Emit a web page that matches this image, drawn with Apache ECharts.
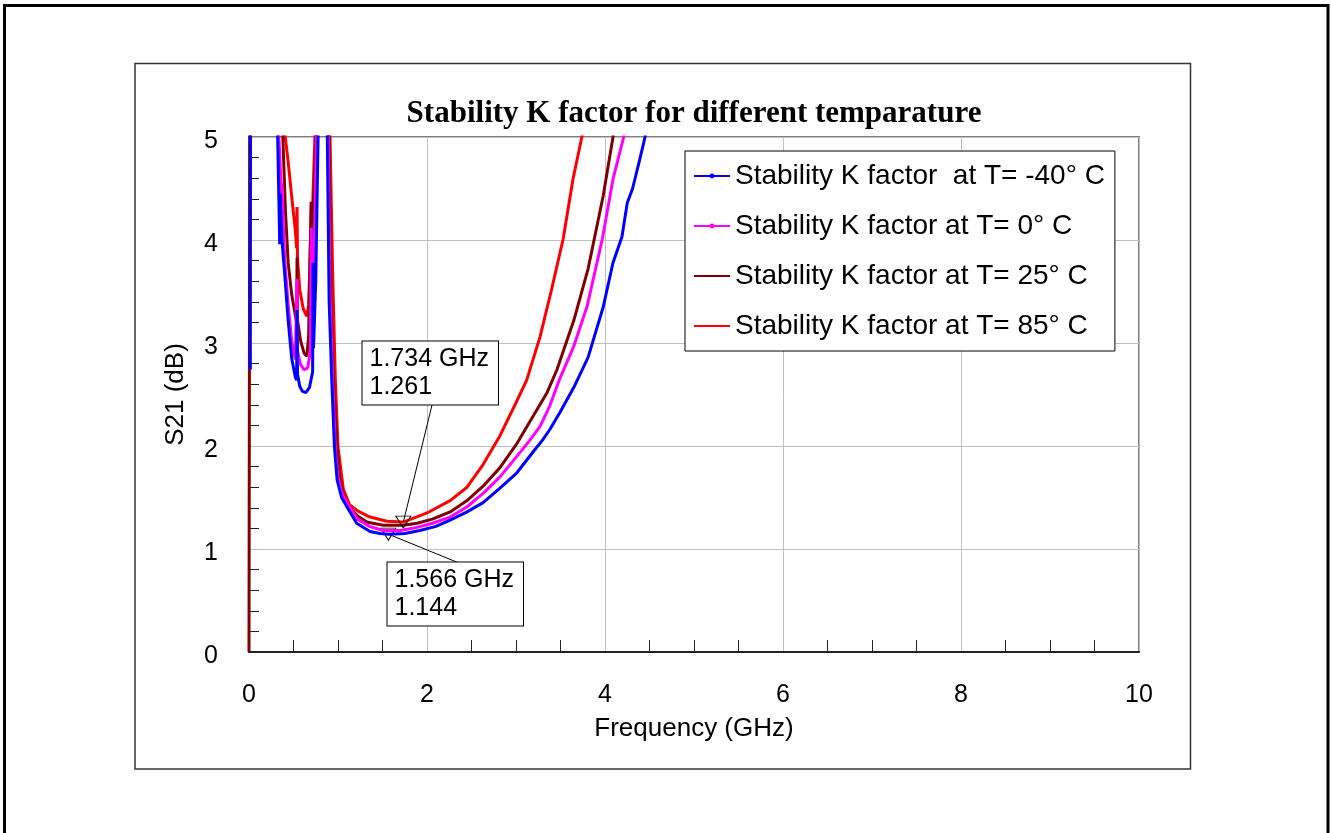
<!DOCTYPE html>
<html lang="en">
<head>
    <meta charset="UTF-8">
    <title>Stability K factor</title>
    <style>
        * {
            margin: 0;
            padding: 0;
        }

        html, body {
            height: 100%;
            width: 100%;
            background: #fff;
        }
    </style>
    <script src="https://cdn.jsdelivr.net/npm/echarts@6/dist/echarts.min.js"></script>
</head>
<body>

<div id="main" style="width: 1331px;height: 833px;"></div>

<script>
    // [frequency GHz, K]
    var kMinus40 = [[0.015, 2.74], [0.02, 9], [0.15, 12], [0.30, 7], [0.32, 5.1], [0.335, 4.42], [0.345, 3.96], [0.35, 4.45], [0.37, 4.0], [0.40, 3.68], [0.44, 3.22], [0.48, 2.85], [0.52, 2.67], [0.535, 2.64], [0.54, 3.32], [0.545, 2.70], [0.57, 2.58], [0.60, 2.53], [0.64, 2.52], [0.68, 2.57], [0.715, 2.72], [0.72, 3.78], [0.725, 2.95], [0.75, 3.6], [0.78, 5.2], [0.81, 8], [0.85, 7], [0.88, 5.0], [0.90, 3.42], [0.93, 2.64], [0.96, 1.99], [0.99, 1.67], [1.04, 1.50], [1.10, 1.41], [1.21, 1.25], [1.36, 1.17], [1.47, 1.15], [1.566, 1.144], [1.75, 1.15], [1.92, 1.18], [2.10, 1.22], [2.26, 1.28], [2.45, 1.36], [2.63, 1.45], [2.82, 1.59], [3.01, 1.74], [3.18, 1.93], [3.30, 2.06], [3.38, 2.16], [3.49, 2.32], [3.65, 2.57], [3.81, 2.86], [3.98, 3.35], [4.09, 3.78], [4.19, 4.03], [4.25, 4.36], [4.31, 4.50], [4.39, 4.78], [4.45, 5.0], [4.6, 6.0], [5.0, 9]];
    var k0 = [[0.02, 9], [0.15, 12], [0.30, 7.5], [0.33, 5.1], [0.36, 4.55], [0.365, 4.38], [0.37, 4.55], [0.40, 3.82], [0.44, 3.37], [0.48, 3.02], [0.52, 2.84], [0.535, 2.85], [0.54, 3.62], [0.545, 2.92], [0.58, 2.79], [0.62, 2.74], [0.66, 2.76], [0.69, 2.92], [0.70, 4.12], [0.705, 3.17], [0.73, 3.67], [0.76, 5.1], [0.80, 8], [0.85, 7], [0.89, 5.0], [0.91, 3.47], [0.94, 2.64], [0.97, 1.99], [1.00, 1.69], [1.05, 1.53], [1.12, 1.42], [1.22, 1.29], [1.35, 1.22], [1.51, 1.18], [1.70, 1.18], [1.89, 1.21], [2.06, 1.25], [2.26, 1.31], [2.45, 1.41], [2.63, 1.54], [2.82, 1.70], [3.00, 1.89], [3.15, 2.05], [3.27, 2.19], [3.38, 2.39], [3.49, 2.65], [3.65, 2.97], [3.80, 3.36], [3.97, 4.01], [4.09, 4.59], [4.21, 5.0], [4.4, 6.5], [5.0, 10]];
    var k25 = [[0, 0], [0.015, 9], [0.15, 12], [0.30, 8], [0.38, 5.0], [0.41, 4.27], [0.44, 3.78], [0.48, 3.47], [0.52, 3.27], [0.535, 3.2], [0.54, 3.83], [0.545, 3.22], [0.58, 3.02], [0.62, 2.90], [0.65, 2.87], [0.67, 3.07], [0.685, 3.78], [0.70, 4.37], [0.705, 3.92], [0.73, 4.47], [0.77, 5.5], [0.81, 8], [0.86, 7], [0.90, 5.0], [0.92, 3.37], [0.95, 2.64], [0.99, 1.99], [1.02, 1.67], [1.07, 1.50], [1.12, 1.41], [1.22, 1.32], [1.33, 1.26], [1.51, 1.23], [1.734, 1.23], [1.89, 1.25], [2.06, 1.29], [2.26, 1.36], [2.45, 1.47], [2.63, 1.61], [2.82, 1.79], [3.00, 2.01], [3.20, 2.30], [3.35, 2.52], [3.46, 2.74], [3.65, 3.22], [3.81, 3.72], [3.98, 4.43], [4.09, 5.0], [4.3, 6.5], [5.0, 11]];
    var k85 = [[0.01, 9], [0.15, 12], [0.30, 9], [0.40, 5.05], [0.44, 4.76], [0.48, 4.42], [0.52, 4.10], [0.535, 3.92], [0.54, 4.32], [0.545, 3.82], [0.57, 3.52], [0.61, 3.33], [0.65, 3.26], [0.67, 3.37], [0.685, 3.78], [0.70, 4.37], [0.705, 3.97], [0.72, 4.47], [0.76, 5.5], [0.80, 9], [0.86, 8], [0.91, 5.0], [0.94, 3.67], [0.97, 2.64], [1.00, 1.99], [1.06, 1.58], [1.13, 1.43], [1.22, 1.37], [1.36, 1.31], [1.55, 1.27], [1.734, 1.261], [2.00, 1.35], [2.26, 1.47], [2.45, 1.60], [2.63, 1.82], [2.82, 2.10], [3.00, 2.42], [3.12, 2.64], [3.27, 3.06], [3.40, 3.52], [3.53, 4.01], [3.64, 4.59], [3.74, 5.0], [3.9, 6.2], [4.3, 10]];

    var seriesNames = ['Stability K factor  at T= -40° C', 'Stability K factor at T= 0° C', 'Stability K factor at T= 25° C', 'Stability K factor at T= 85° C'];
    var seriesColors = ['#0000ff', '#ff00ff', '#800000', '#ff0000'];

    // marked points: [freq, K, label]
    var markHot = [1.734, 1.261, '1.734 GHz\n1.261'];
    var markCold = [1.566, 1.144, '1.566 GHz\n1.144'];

    var myChart = echarts.init(document.getElementById('main'));

    var font = 'Liberation Sans';

    function line(i, data, z) {
        return {
            name: seriesNames[i],
            type: 'line',
            data: data,
            z: z,
            symbol: 'circle',
            showSymbol: false,
            animation: false,
            lineStyle: {color: seriesColors[i], width: 3},
            itemStyle: {color: seriesColors[i]}
        };
    }

    var boxLabel = {
        show: true,
        position: [0, 0],
        align: 'left',
        verticalAlign: 'top',
        fontFamily: font,
        fontSize: 25,
        lineHeight: 28,
        color: '#000',
        backgroundColor: '#fff',
        borderColor: '#000',
        borderWidth: 1,
        padding: [4, 9, 3, 7]
    };
    var tri = {
        symbol: 'triangle',
        symbolRotate: 180,
        symbolSize: [15, 12],
        itemStyle: {color: 'rgba(0,0,0,0)', borderColor: '#000', borderWidth: 1},
        label: {show: false}
    };

    var series = [
        line(0, kMinus40, 6),
        line(1, k0, 5),
        line(2, k25, 4),
        line(3, k85, 3)
    ];
    series[0].markPoint = {
        silent: true,
        animation: false,
        data: [
            Object.assign({coord: [markHot[0], markHot[1]]}, tri),
            Object.assign({coord: [markCold[0], markCold[1]]}, tri),
            {x: 363, y: 342, symbol: 'rect', symbolSize: 1, itemStyle: {color: 'rgba(0,0,0,0)'}, label: Object.assign({formatter: markHot[2]}, boxLabel)},
            {x: 388, y: 563, symbol: 'rect', symbolSize: 1, itemStyle: {color: 'rgba(0,0,0,0)'}, label: Object.assign({formatter: markCold[2]}, boxLabel)}
        ]
    };
    series[0].markLine = {
        silent: true,
        animation: false,
        symbol: 'none',
        label: {show: false},
        lineStyle: {color: '#000', width: 1, type: 'solid'},
        data: [
            [{coord: [markHot[0], markHot[1]]}, {x: 432, y: 405}],
            [{coord: [markCold[0], markCold[1]]}, {x: 459, y: 563}]
        ]
    };

    var option = {
        backgroundColor: '#fff',
        animation: false,
        graphic: [
            {type: 'rect', shape: {x: 4.5, y: 5.5, width: 1323.5, height: 900}, style: {fill: 'none', stroke: '#000', lineWidth: 3}, silent: true},
            {type: 'rect', shape: {x: 135, y: 63.5, width: 1055.5, height: 705.5}, style: {fill: 'none', stroke: '#333', lineWidth: 1.5}, silent: true},
            {type: 'text', x: 694, y: 114, style: {text: 'Stability K factor for different temparature', font: 'bold 31px "Liberation Serif"', fill: '#000', textAlign: 'center', textVerticalAlign: 'middle'}, silent: true}
        ],
        legend: {
            data: [
                {name: seriesNames[0]},
                {name: seriesNames[1]},
                {name: seriesNames[2], itemStyle: {opacity: 0}},
                {name: seriesNames[3], itemStyle: {opacity: 0}}
            ],
            orient: 'vertical',
            left: 685,
            top: 151,
            padding: [11, 10, 11, 8],
            itemGap: 22,
            itemWidth: 36,
            itemHeight: 6,
            selectedMode: false,
            backgroundColor: '#fff',
            borderColor: '#000',
            borderWidth: 1,
            textStyle: {fontFamily: font, fontSize: 28, color: '#000'}
        },
        grid: {
            left: 249,
            top: 137,
            right: 192,
            bottom: 181,
            show: true,
            borderColor: '#808080',
            borderWidth: 2,
            containLabel: false
        },
        xAxis: {
            type: 'value',
            min: 0,
            max: 10,
            interval: 2,
            name: 'Frequency (GHz)',
            nameLocation: 'middle',
            nameGap: 64,
            nameTextStyle: {fontFamily: font, fontSize: 26, color: '#000'},
            axisLine: {show: true, onZero: false, lineStyle: {color: '#222', width: 2}},
            axisTick: {show: false, inside: true},
            minorTick: {show: true, splitNumber: 4, length: 12, lineStyle: {color: '#222', width: 1}},
            axisLabel: {fontFamily: font, fontSize: 25, color: '#000', margin: 31},
            splitLine: {show: true, lineStyle: {color: '#c0c0c0', width: 1}}
        },
        yAxis: {
            type: 'value',
            min: 0,
            max: 5,
            interval: 1,
            name: 'S21 (dB)',
            nameLocation: 'middle',
            nameGap: 60,
            nameTextStyle: {fontFamily: font, fontSize: 26, color: '#000'},
            axisLine: {show: true, onZero: false, lineStyle: {color: '#808080', width: 2}},
            axisTick: {show: false, inside: true},
            minorTick: {show: true, splitNumber: 5, length: 10, lineStyle: {color: '#222', width: 1}},
            axisLabel: {fontFamily: font, fontSize: 25, color: '#000', margin: 31, verticalAlign: 'top', lineHeight: 8},
            splitLine: {show: true, lineStyle: {color: '#c0c0c0', width: 1}}
        },
        series: series
    };
    myChart.setOption(option);
</script>

</body>
</html>
